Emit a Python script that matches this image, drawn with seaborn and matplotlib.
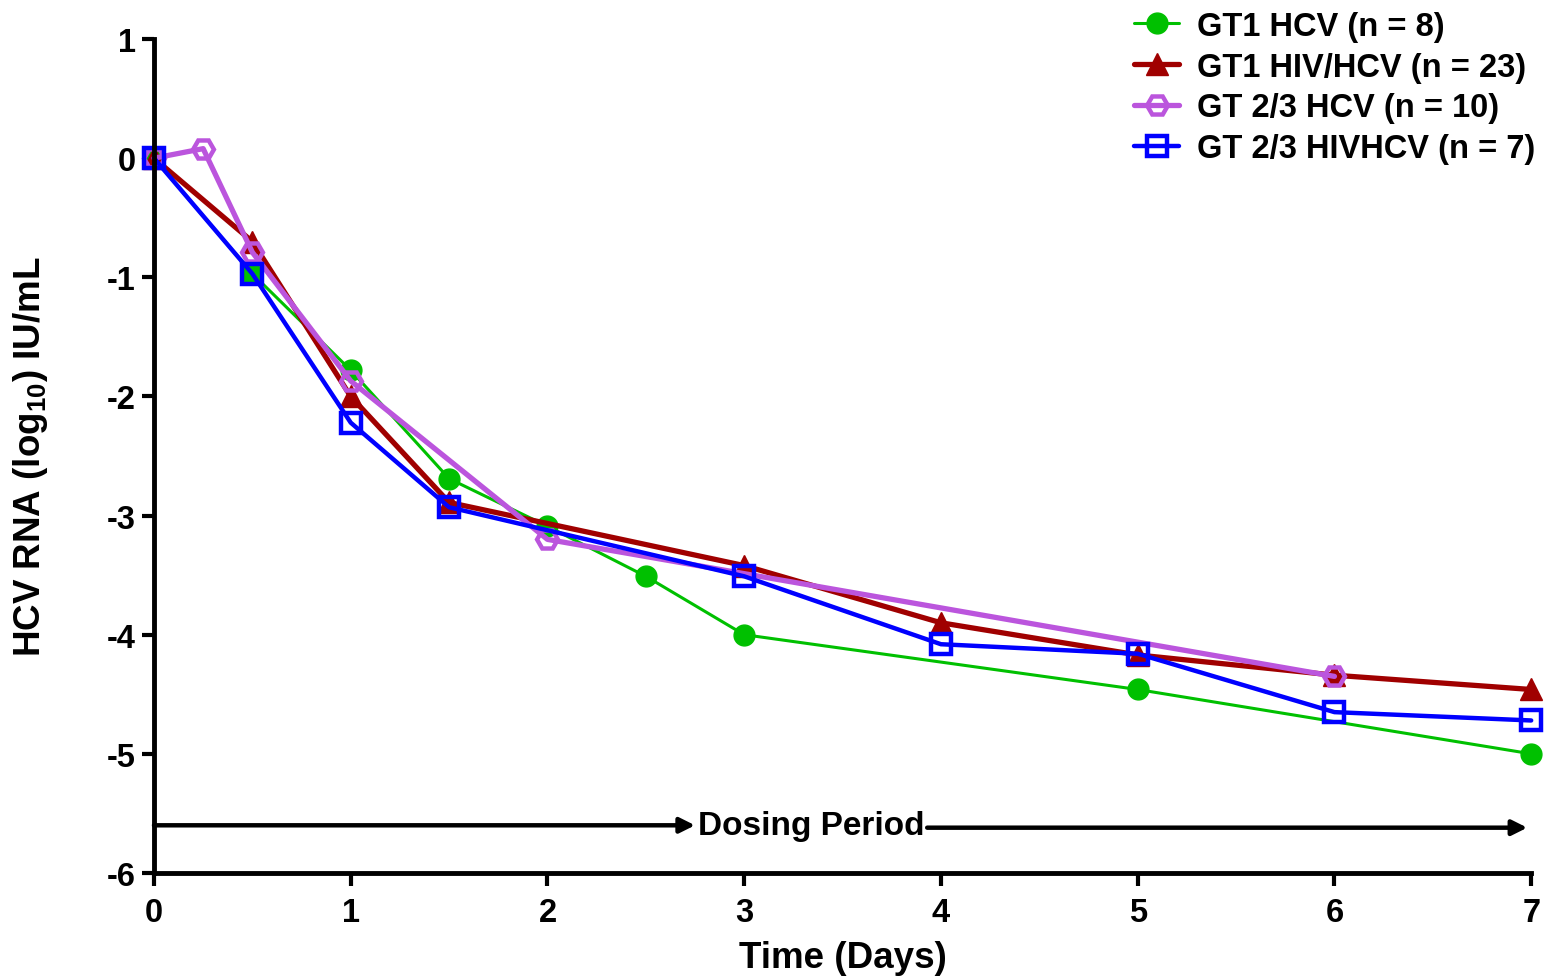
import matplotlib
matplotlib.use("Agg")
import matplotlib.pyplot as plt
import seaborn as sns
import pandas as pd

# ---- data ----
gt1_hcv_x = [0, 0.5, 1, 1.5, 2, 2.5, 3, 5, 7]
gt1_hcv_y = [0, -0.97, -1.78, -2.69, -3.09, -3.51, -4.0, -4.46, -5.0]

gt1_hivhcv_x = [0, 0.5, 1, 1.5, 3, 4, 5, 6, 7]
gt1_hivhcv_y = [0, -0.70, -2.0, -2.89, -3.42, -3.90, -4.17, -4.34, -4.46]

gt23_hcv_x = [0, 0.25, 0.5, 1, 2, 6]
gt23_hcv_y = [0, 0.08, -0.79, -1.87, -3.20, -4.35]

gt23_hivhcv_x = [0, 0.5, 1, 1.5, 3, 4, 5, 6, 7]
gt23_hivhcv_y = [0, -0.97, -2.22, -2.93, -3.51, -4.08, -4.16, -4.65, -4.72]

labels = ["GT1 HCV (n = 8)", "GT1 HIV/HCV (n = 23)",
          "GT 2/3 HCV (n = 10)", "GT 2/3 HIVHCV (n = 7)"]
x_ticks = [0, 1, 2, 3, 4, 5, 6, 7]
y_ticks = [-6, -5, -4, -3, -2, -1, 0, 1]

sns.set_style("ticks")
plt.rcParams['font.family'] = ['Liberation Sans', 'DejaVu Sans']
plt.rcParams['font.weight'] = 'bold'
plt.rcParams['axes.unicode_minus'] = False
plt.rcParams['text.color'] = 'black'
plt.rcParams['axes.labelcolor'] = 'black'
plt.rcParams['xtick.color'] = 'black'
plt.rcParams['ytick.color'] = 'black'
plt.rcParams['axes.edgecolor'] = 'black'
plt.rcParams['mathtext.fontset'] = 'custom'
plt.rcParams['mathtext.rm'] = 'Liberation Sans:bold'
plt.rcParams['mathtext.bf'] = 'Liberation Sans:bold'

fig = plt.figure(figsize=(15.49, 9.79), dpi=100)
ax = fig.add_axes([0.0994, 0.1073, 0.8891, 0.8518])

series = [
    (gt1_hcv_x, gt1_hcv_y, labels[0],
     dict(color="#00C000", lw=2.2, marker="o", ms=15, mfc="#00C000", mec="#00C000", mew=1)),
    (gt1_hivhcv_x, gt1_hivhcv_y, labels[1],
     dict(color="#A00000", lw=3.8, marker="^", ms=16, mfc="#A00000", mec="#A00000", mew=1)),
    (gt23_hcv_x, gt23_hcv_y, labels[2],
     dict(color="#BB55DD", lw=3.8, marker="H", ms=15, mfc="none", mec="#BB55DD", mew=3.2)),
    (gt23_hivhcv_x, gt23_hivhcv_y, labels[3],
     dict(color="#0000FF", lw=3.2, marker="s", ms=15, mfc="none", mec="#0000FF", mew=3.2)),
]

for xs, ys, lab, st in series:
    df = pd.DataFrame({"x": xs, "y": ys})
    sns.lineplot(data=df, x="x", y="y", ax=ax, label=lab, estimator=None,
                 sort=False, clip_on=False, **st)

ax.set_xlim(0, 7)
ax.set_ylim(-6, 1)
ax.set_xticks(x_ticks)
ax.set_yticks(y_ticks)
ax.tick_params(axis='both', labelsize=23.5, width=3, length=9, direction='out', pad=4)
ax.tick_params(axis='x', pad=8)
for lab in ax.get_xticklabels() + ax.get_yticklabels():
    lab.set_fontweight('bold')
for s in ['top', 'right']:
    ax.spines[s].set_visible(False)
for s in ['left', 'bottom']:
    ax.spines[s].set_linewidth(3.5)

ax.set_xlabel("Time (Days)", fontsize=26.5, fontweight='bold', labelpad=9)
ax.set_ylabel(r"HCV RNA (log$_{\mathbf{10}}$) IU/mL", fontsize=26.5, fontweight='bold', labelpad=41)

# dosing period arrows
arr = dict(arrowstyle='-|>,head_length=0.9,head_width=0.45', color='black', lw=3.2,
           shrinkA=0, shrinkB=0)
ax.annotate("", xy=(2.75, -5.6), xytext=(0, -5.6), arrowprops=arr, annotation_clip=False)
ax.annotate("", xy=(6.98, -5.62), xytext=(3.93, -5.62), arrowprops=arr, annotation_clip=False)
ax.text(3.34, -5.6, "Dosing Period", fontsize=24, fontweight='bold', ha='center', va='center')

ax.get_legend().remove()
h, l = ax.get_legend_handles_labels()
leg = fig.legend(h, l, loc='upper right', bbox_to_anchor=(1.004, 1.008), frameon=False,
                 fontsize=23.5, handlelength=1.4, labelspacing=0.3, handletextpad=0.55,
                 borderaxespad=0.2)
for t in leg.get_texts():
    t.set_fontweight('bold')

fig.savefig("out.png", dpi=100)
